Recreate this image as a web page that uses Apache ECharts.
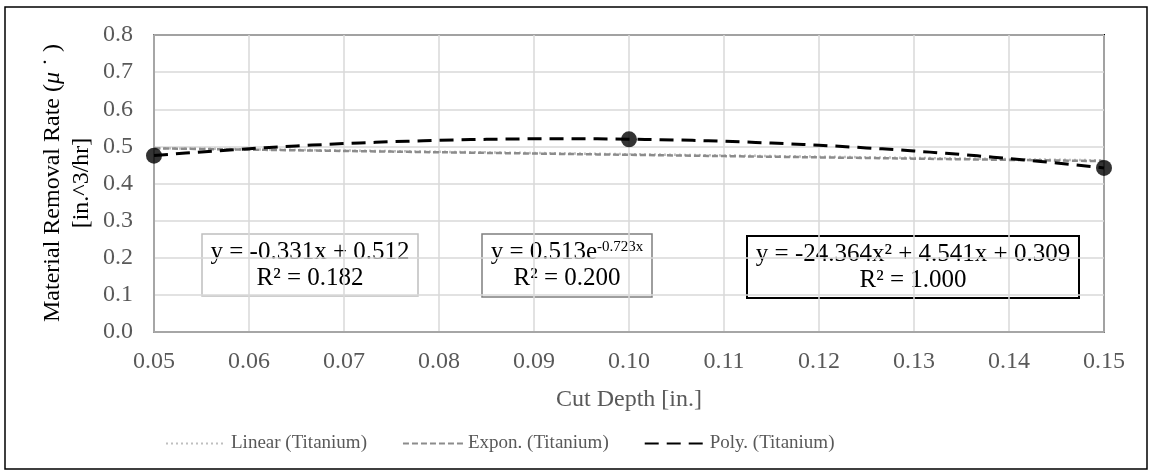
<!DOCTYPE html>
<html>
<head>
<meta charset="utf-8">
<script src="https://cdn.jsdelivr.net/npm/echarts@6/dist/echarts.min.js"></script>
<style>
  html, body { margin: 0; padding: 0; background: #fff; }
  #chart { width: 1152px; height: 472px; }
</style>
</head>
<body>
<div id="chart"></div>
<script>
// Titanium measurements: cut depth [in.] vs material removal rate [in.^3/hr]
const cutDepth = [0.05, 0.10, 0.15];
const removalRate = [0.475, 0.519, 0.442];

// Trendline coefficients as printed in the equation boxes
const linearCoef = [-0.331, 0.512];        // y = a*x + b
const exponCoef = [0.513, -0.723];         // y = a*e^(b*x)
const polyCoef = [-24.364, 4.541, 0.309];  // y = a*x^2 + b*x + c
const rSquared = [0.182, 0.200, 1.000];

const trendNames = ['Linear (Titanium)', 'Expon. (Titanium)', 'Poly. (Titanium)'];

// Axis ranges: [min, max, interval]
const xRange = [0.05, 0.15, 0.01];
const yRange = [0, 0.8, 0.1];

const FONT = '"Liberation Serif", "Times New Roman", serif';
const TEXT = '#595959';

const trendFns = [
  x => linearCoef[0] * x + linearCoef[1],
  x => exponCoef[0] * Math.exp(exponCoef[1] * x),
  x => polyCoef[0] * x * x + polyCoef[1] * x + polyCoef[2]
];

// trendline evaluated along the x range of the data
function trendPoints(fn) {
  const pts = [];
  const lo = cutDepth[0], hi = cutDepth[cutDepth.length - 1];
  const n = 60;
  for (let i = 0; i <= n; i++) {
    const x = lo + (hi - lo) * i / n;
    pts.push([x, fn(x)]);
  }
  return pts;
}

const trendStyles = [
  { color: '#bfbfbf', width: 2.5, type: [2, 3] },
  { color: '#8c8c8c', width: 2.5, type: [6, 3] },
  { color: '#000000', width: 3, type: [14, 8] }
];

const fmt = v => v.toFixed(3);
const eqTexts = [
  `{b|y = ${fmt(linearCoef[0])}x + ${fmt(linearCoef[1])}}\n{b|R² = ${fmt(rSquared[0])}}`,
  `{b|y = ${fmt(exponCoef[0])}e}{s|${fmt(exponCoef[1])}x}\n{b|R² = ${fmt(rSquared[1])}}`,
  `{b|y = ${fmt(polyCoef[0])}x² + ${fmt(polyCoef[1])}x + ${fmt(polyCoef[2])}}\n{b|R² = ${fmt(rSquared[2])}}`
];
const eqBoxes = [
  { x: 202, y: 234, w: 216, h: 62, stroke: '#bfbfbf', lw: 1.5 },
  { x: 482, y: 234, w: 170, h: 63, stroke: '#7f7f7f', lw: 1.5 },
  { x: 747, y: 236, w: 332, h: 62, stroke: '#000000', lw: 2 }
];

const eqGraphics = eqBoxes.map((b, i) => ({
  type: 'group',
  children: [
    {
      type: 'rect',
      shape: { x: b.x, y: b.y, width: b.w, height: b.h },
      style: { fill: '#fff', stroke: b.stroke, lineWidth: b.lw }
    },
    {
      type: 'text',
      x: b.x + b.w / 2,
      y: b.y + b.h / 2,
      style: {
        text: eqTexts[i],
        align: 'center',
        verticalAlign: 'middle',
        rich: {
          b: { fontFamily: FONT, fontSize: 25, color: TEXT, lineHeight: 26 },
          s: { fontFamily: FONT, fontSize: 15, color: TEXT, lineHeight: 26, padding: [0, 0, 10, 0] }
        }
      }
    }
  ]
}));

const chart = echarts.init(document.getElementById('chart'), null, { renderer: 'canvas' });

const series = trendNames.map((name, i) => ({
  name,
  type: 'line',
  data: trendPoints(trendFns[i]),
  showSymbol: false,
  symbol: 'none',
  lineStyle: trendStyles[i],
  itemStyle: { color: trendStyles[i].color },
  z: 3
}));

series.push({
  name: 'Titanium',
  type: 'scatter',
  data: cutDepth.map((x, i) => [x, removalRate[i]]),
  symbol: 'circle',
  symbolSize: 16,
  itemStyle: { color: '#000' },
  z: 4
});

chart.setOption({
  animation: false,
  backgroundColor: '#fff',
  grid: {
    left: 154, right: 48, top: 35, bottom: 140,
    show: true, borderColor: '#000', borderWidth: 2, backgroundColor: 'transparent'
  },
  xAxis: {
    type: 'value',
    min: xRange[0], max: xRange[1], interval: xRange[2],
    name: 'Cut Depth [in.]',
    nameLocation: 'middle',
    nameGap: 56,
    nameTextStyle: { fontFamily: FONT, fontSize: 24, color: TEXT },
    axisLine: { show: true, onZero: false, lineStyle: { color: '#a6a6a6', width: 2 } },
    axisTick: { show: false },
    axisLabel: {
      margin: 18, fontFamily: FONT, fontSize: 24, color: TEXT,
      formatter: v => v.toFixed(2)
    },
    splitLine: { show: true, lineStyle: { color: '#d9d9d9', width: 1.5 } }
  },
  yAxis: {
    type: 'value',
    min: yRange[0], max: yRange[1], interval: yRange[2],
    axisLine: { show: true, lineStyle: { color: '#a6a6a6', width: 2 } },
    axisTick: { show: false },
    axisLabel: {
      margin: 21, fontFamily: FONT, fontSize: 24, color: TEXT,
      formatter: v => v.toFixed(1)
    },
    splitLine: { show: true, lineStyle: { color: '#d9d9d9', width: 1.5 } }
  },
  legend: {
    data: trendNames,
    left: 160,
    top: 429,
    itemWidth: 60,
    itemHeight: 14,
    itemGap: 35,
    itemStyle: { opacity: 0 },
    textStyle: { fontFamily: FONT, fontSize: 19, color: TEXT }
  },
  graphic: [
    {
      type: 'rect',
      shape: { x: 5, y: 7, width: 1142, height: 462 },
      style: { fill: 'none', stroke: '#000', lineWidth: 1.5 },
      silent: true
    },
    {
      type: 'text',
      x: 67,
      y: 183,
      rotation: Math.PI / 2,
      style: {
        text: '{a|Material Removal Rate (}{m|μ}{a| ˙ )}\n{a|[in.^3/hr]}',
        align: 'center',
        verticalAlign: 'middle',
        rich: {
          a: { fontFamily: FONT, fontSize: 24, color: TEXT, lineHeight: 29 },
          m: { fontFamily: FONT, fontSize: 24, fontStyle: 'italic', color: TEXT, lineHeight: 29 }
        }
      }
    },
    ...eqGraphics
  ],
  series
});
</script>
</body>
</html>
